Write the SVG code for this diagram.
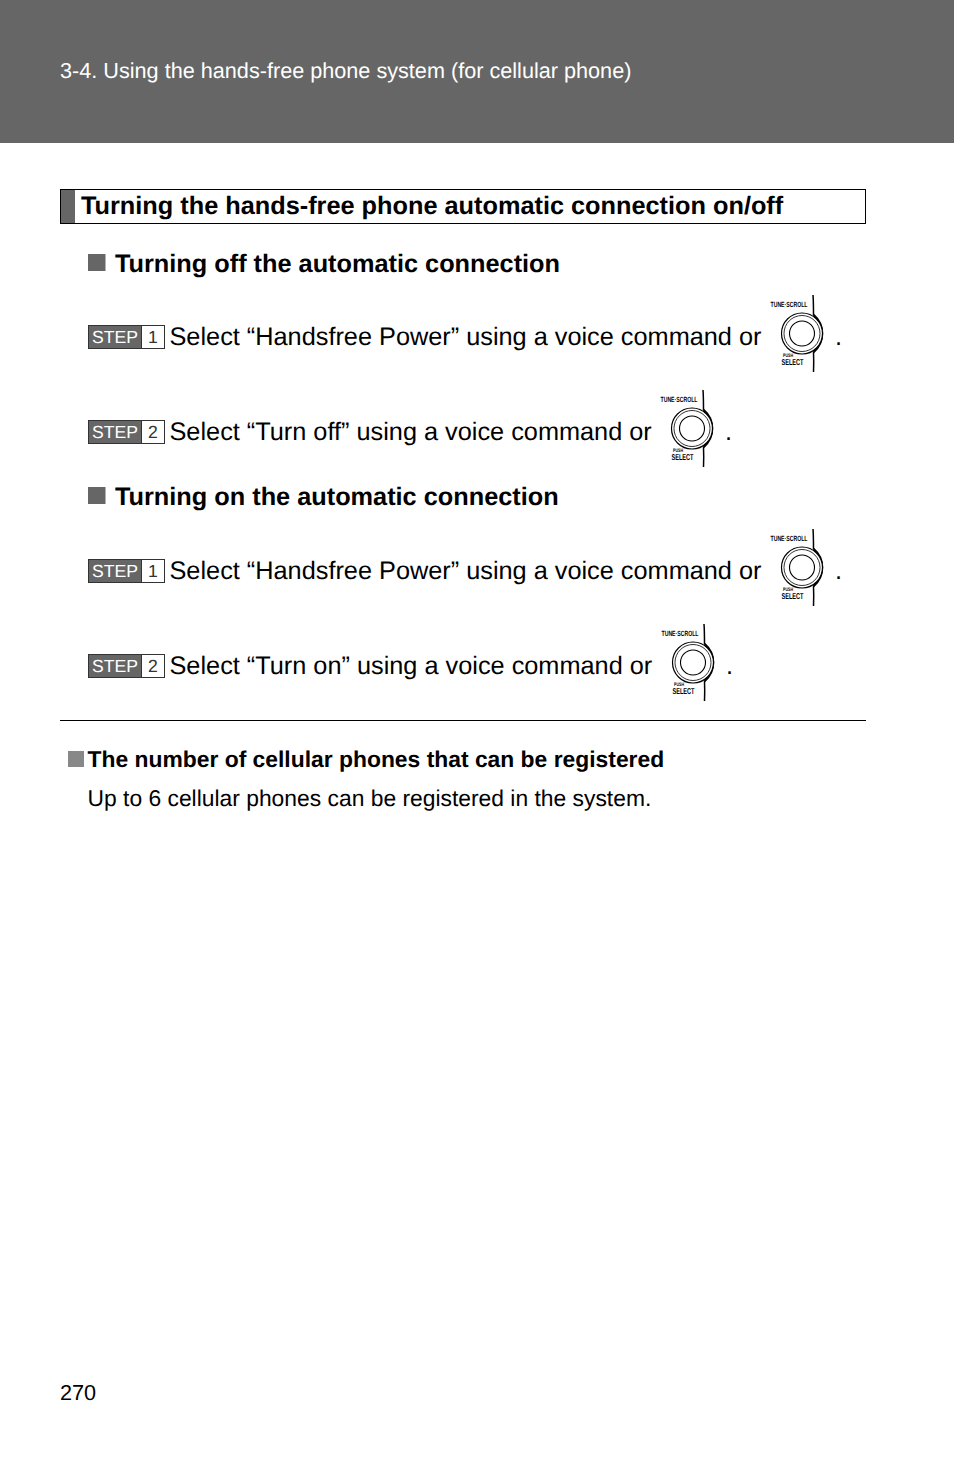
<svg xmlns="http://www.w3.org/2000/svg" width="954" height="1475" viewBox="0 0 954 1475">
<style>
text{font-family:"Liberation Sans",Arial,sans-serif;fill:#000;text-rendering:geometricPrecision}
.h{font-size:25.3px;font-weight:700}
.b{font-size:25.3px}
.st{font-size:17.6px;fill:#fff}
.n{font-size:17.6px;fill:#333}
.sm{font-size:7.5px;font-weight:700}
</style>
<defs>
<g id="knob">
<path d="M44 0C44.500 7 44.500 14 44.500 20M44.500 57C44.800 64 44.800 71 44.500 77" fill="none" stroke="#000" stroke-width="1.500"/>
<path d="M44.500 20C56 30 56 47 44.500 57" fill="none" stroke="#000" stroke-width="2.400"/>
<circle cx="33" cy="38.500" r="20.500" fill="#fff" stroke="#000" stroke-width="1.200"/>
<circle cx="33" cy="38.500" r="18" fill="none" stroke="#000" stroke-width="0.800"/>
<circle cx="33" cy="38.500" r="12.500" fill="none" stroke="#000" stroke-width="1.100"/>
<text class="sm" x="1.500" y="12" textLength="37" lengthAdjust="spacingAndGlyphs">TUNE·SCROLL</text>
<text x="14" y="62" font-size="5" font-weight="700" textLength="10" lengthAdjust="spacingAndGlyphs">PUSH</text>
<text x="12.500" y="70" font-size="8.500" font-weight="700" textLength="22" lengthAdjust="spacingAndGlyphs">SELECT</text>
</g>
<g id="s1">
<rect x="88.500" y="0.500" width="76" height="23" fill="#fff" stroke="#333"/>
<rect x="88.500" y="0.500" width="53" height="23" fill="#666" stroke="#333"/>
<text class="st" x="92" y="18">STEP</text>
</g>
</defs>
<g id="header">
<rect x="0" y="0" width="954" height="143" fill="#666"/>
<text x="60" y="78" font-size="21.650" style="fill:#fff">3-4. Using the hands-free phone system (for cellular phone)</text>
</g>
<g id="title">
<rect x="60.500" y="189.500" width="805" height="34" fill="#fff" stroke="#000"/>
<rect x="61" y="190" width="14" height="33" fill="#666"/>
<text class="h" x="81" y="214">Turning the hands-free phone automatic connection on/off</text>
</g>
<g id="off-heading">
<rect x="88" y="254" width="17.500" height="17" fill="#666"/>
<text class="h" x="115" y="272">Turning off the automatic connection</text>
</g>
<g id="off-step1">
<use href="#s1" y="325"/>
<text class="n" x="148" y="343">1</text>
<text class="b" x="169.500" y="345">Select “Handsfree Power” using a voice command or</text>
<use href="#knob" x="769" y="295"/>
<text class="b" x="835" y="345">.</text>
</g>
<g id="off-step2">
<use href="#s1" y="420"/>
<text class="n" x="148" y="438">2</text>
<text class="b" x="169.500" y="440">Select “Turn off” using a voice command or</text>
<use href="#knob" x="659" y="390"/>
<text class="b" x="725" y="440">.</text>
</g>
<g id="on-heading">
<rect x="88" y="487" width="17.500" height="17" fill="#666"/>
<text class="h" x="115" y="505">Turning on the automatic connection</text>
</g>
<g id="on-step1">
<use href="#s1" y="559"/>
<text class="n" x="148" y="577">1</text>
<text class="b" x="169.500" y="579">Select “Handsfree Power” using a voice command or</text>
<use href="#knob" x="769" y="529"/>
<text class="b" x="835" y="579">.</text>
</g>
<g id="on-step2">
<use href="#s1" y="654"/>
<text class="n" x="148" y="672">2</text>
<text class="b" x="169.500" y="674">Select “Turn on” using a voice command or</text>
<use href="#knob" x="660" y="624"/>
<text class="b" x="726" y="674">.</text>
</g>
<g id="rule"><rect x="60" y="720" width="806" height="1" fill="#000"/></g>
<g id="note">
<rect x="68" y="751" width="16" height="16" fill="#888"/>
<text x="87.500" y="767" font-size="22.870" font-weight="700">The number of cellular phones that can be registered</text>
<text x="87.500" y="806" font-size="22.850">Up to 6 cellular phones can be registered in the system.</text>
</g>
<g id="page"><text x="60" y="1400" font-size="21.650">270</text></g>
</svg>
